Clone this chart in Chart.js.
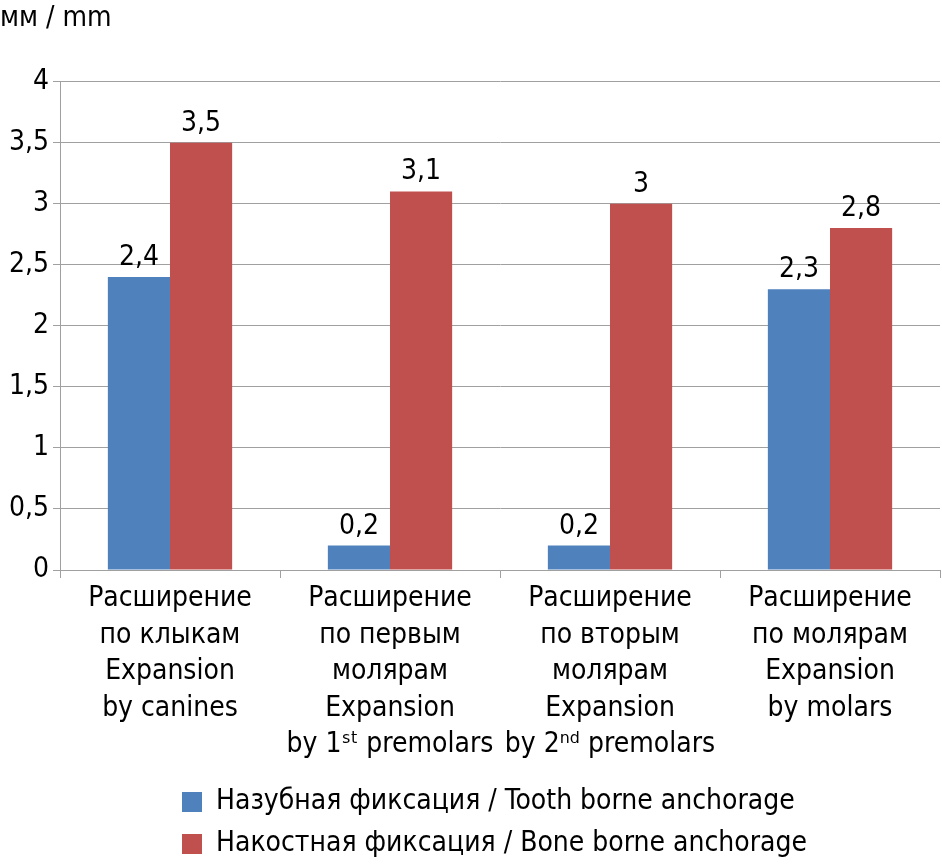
<!DOCTYPE html>
<html>
<head>
<meta charset="utf-8">
<script src="https://cdn.jsdelivr.net/npm/chart.js@4.4.0/dist/chart.umd.min.js"></script>
<style>
  html, body { margin: 0; padding: 0; background: #fff; }
  #wrap { width: 942px; height: 864px; }
</style>
</head>
<body>
<div id="wrap"><canvas id="chart1"></canvas></div>
<script>
// categories (multi-line labels)
const categories = [
    ["Расширение", "по клыкам", "Expansion", "by canines"],
    ["Расширение", "по первым", "молярам", "Expansion", "by 1ˢᵗ premolars"],
    ["Расширение", "по вторым", "молярам", "Expansion", "by 2ⁿᵈ premolars"],
    ["Расширение", "по молярам", "Expansion", "by molars"]
];
const toothBorne = [2.4, 0.2, 0.2, 2.3];
const boneBorne = [3.5, 3.1, 3.0, 2.8];
const seriesNames = [
    "Назубная фиксация / Tooth borne anchorage",
    "Накостная фиксация / Bone borne anchorage"
];
const yTicks = [0, 0.5, 1, 1.5, 2, 2.5, 3, 3.5, 4];

const FONT = "'Liberation Sans Narrow', 'DejaVu Sans Condensed', sans-serif";

function comma(v) {
    return String(v).replace(".", ",");
}

// values above the bars
const valueLabels = {
    id: "valueLabels",
    afterDatasetsDraw(chart) {
        const ctx = chart.ctx;
        ctx.save();
        ctx.font = "28px " + FONT;
        ctx.fillStyle = "#000";
        ctx.textAlign = "center";
        ctx.textBaseline = "alphabetic";
        chart.data.datasets.forEach((ds, i) => {
            chart.getDatasetMeta(i).data.forEach((bar, j) => {
                ctx.fillText(comma(ds.data[j]), bar.x, bar.y - 12);
            });
        });
        ctx.restore();
    }
};

// legend rows start at the same x, a bit right of centre
const legendShift = {
    id: "legendShift",
    afterLayout(chart) {
        if (chart.legend) {
            chart.legend.left = 168;
        }
    }
};

let ctx = document.getElementById("chart1").getContext("2d");
new Chart(ctx, {
    type: "bar",
    data: {
        labels: categories,
        datasets: [{
            label: seriesNames[0],
            data: toothBorne,
            backgroundColor: "#4F81BD"
        }, {
            label: seriesNames[1],
            data: boneBorne,
            backgroundColor: "#C0504D"
        }]
    },
    options: {
        responsive: true,
        maintainAspectRatio: false,
        animation: false,
        categoryPercentage: 0.565,
        barPercentage: 1,
        layout: { padding: { left: 0, right: 2, top: 0, bottom: -4 } },
        plugins: {
            title: {
                display: true,
                text: "мм / mm",
                align: "start",
                color: "#000",
                font: { family: FONT, size: 28, weight: "normal" },
                padding: { top: 2, bottom: 46 }
            },
            legend: {
                position: "bottom",
                align: "start",
                labels: {
                    color: "#000",
                    font: { family: FONT, size: 28 },
                    boxWidth: 20,
                    boxHeight: 20,
                    padding: 14
                }
            },
            tooltip: { enabled: false }
        },
        scales: {
            x: {
                afterFit(axis) {
                    axis.height += 8;
                },
                grid: {
                    drawOnChartArea: false,
                    color: "#A0A0A0",
                    tickLength: 8
                },
                border: { color: "#A0A0A0" },
                ticks: {
                    color: "#000",
                    font: { family: FONT, size: 28, lineHeight: 1.3 },
                    maxRotation: 0,
                    autoSkip: false
                }
            },
            y: {
                min: 0,
                max: 4,
                afterBuildTicks(axis) {
                    axis.ticks = yTicks.map(v => ({ value: v }));
                },
                afterFit(axis) {
                    axis.width = 60;
                },
                grid: {
                    color: "#A0A0A0",
                    tickLength: 7
                },
                border: { color: "#A0A0A0" },
                ticks: {
                    color: "#000",
                    font: { family: FONT, size: 28 },
                    padding: 4,
                    callback: v => comma(v)
                }
            }
        }
    },
    plugins: [valueLabels, legendShift]
});
</script>
</body>
</html>
